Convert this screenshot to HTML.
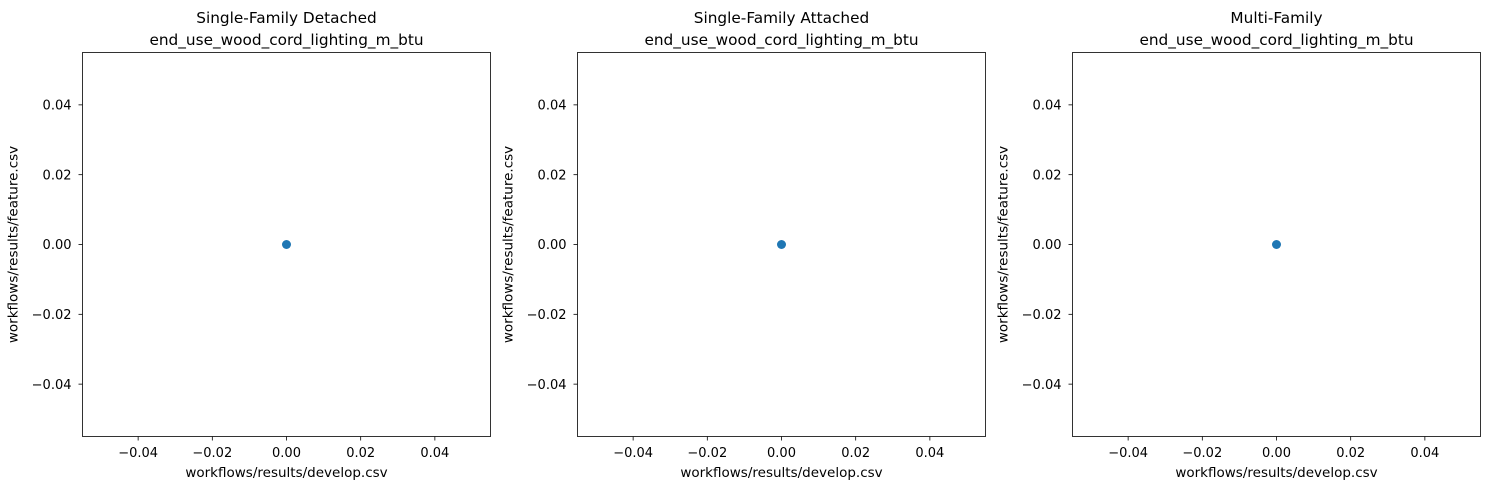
<!DOCTYPE html>
<html><head><meta charset="utf-8">
<style>
html,body{margin:0;padding:0;background:#fff;}
svg{display:block;font-family:"DejaVu Sans","Liberation Sans",sans-serif;}
</style></head>
<body>
<svg id="chart" width="1490" height="489" viewBox="0 0 1490 489" xmlns="http://www.w3.org/2000/svg"></svg>
<script>
const panelTitles = ["Single-Family Detached", "Single-Family Attached", "Multi-Family"];
const metricName = "end_use_wood_cord_lighting_m_btu";
const xValues = [0];
const yValues = [0];
const tickValues = [-0.04, -0.02, 0.00, 0.02, 0.04];
const tickLabels = ["\u22120.04", "\u22120.02", "0.00", "0.02", "0.04"];
const domainMin = -0.055, domainMax = 0.055;

const NS = "http://www.w3.org/2000/svg";
const svgRoot = document.getElementById("chart");
function mk(tag, attrs, parent, text){
  const e = document.createElementNS(NS, tag);
  for (const k in attrs) e.setAttribute(k, attrs[k]);
  if (text !== undefined) e.textContent = text;
  parent.appendChild(e);
  return e;
}
const panelLefts = [82.5, 577.5, 1072.5];
const plotW = 408, plotTop = 52.5, plotH = 384;
panelTitles.forEach((title, p) => {
  const L = panelLefts[p];
  const g = mk("g", {}, svgRoot);
  
  
  const xs = v => L + (v - domainMin) / (domainMax - domainMin) * plotW;
  const ys = v => plotTop + plotH - (v - domainMin) / (domainMax - domainMin) * plotH;
  const t1 = mk("text", {x: L + plotW/2, y: 23, "text-anchor": "middle", "font-size": 15.3, fill: "#000"}, g, title);
  
  
  const t2 = mk("text", {x: L + plotW/2, y: 45, "text-anchor": "middle", "font-size": 15.3, fill: "#000"}, g, metricName);
  
  
  tickValues.forEach((v, i) => {
    const x = xs(v);
    mk("line", {x1: x, x2: x, y1: plotTop + plotH, y2: plotTop + plotH + 4, stroke: "#000", "stroke-width": 0.8}, g);
    const tx = mk("text", {x: x, y: plotTop + plotH + 20.5, "text-anchor": "middle", "font-size": 13, fill: "#000"}, g, tickLabels[i]);
    
    
    const y = ys(v);
    mk("line", {x1: L - 4, x2: L, y1: y, y2: y, stroke: "#000", "stroke-width": 0.8}, g);
    const ty = mk("text", {x: L - 11, y: y + 4.7, "text-anchor": "end", "font-size": 13, fill: "#000"}, g, tickLabels[i]);
    
    
  });
  const xl = mk("text", {x: L + plotW/2, y: 477, "text-anchor": "middle", "font-size": 13.5, fill: "#000"}, g, "workflows/results/develop.csv");
  
  
  const yl = mk("text", {x: 0, y: 0, "text-anchor": "middle", "font-size": 13.5, fill: "#000", transform: `translate(${L - 65},${plotTop + plotH/2}) rotate(-90)`}, g, "workflows/results/feature.csv");
  
  
  xValues.forEach((xv, i) => {
    const c = mk("circle", {cx: xs(xv), cy: ys(yValues[i]), r: 4.5, fill: "#1f77b4"}, g);
    
    
  });
  const fr = mk("rect", {x: L, y: plotTop, width: plotW, height: plotH, fill: "none", stroke: "#000", "stroke-width": 0.8}, g);
  
  
});
</script>
</body></html>
